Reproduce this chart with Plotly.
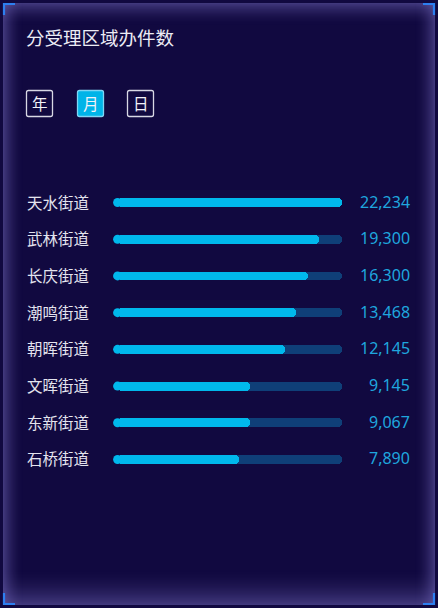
import plotly.graph_objects as go

# ---- data ----
title_text = "分受理区域办件数"
tabs = ["年", "月", "日"]
active_tab = "月"
streets = ["天水街道", "武林街道", "长庆街道", "潮鸣街道", "朝晖街道", "文晖街道", "东新街道", "石桥街道"]
counts = [22234, 19300, 16300, 13468, 12145, 9145, 9067, 7890]
bar_percent = [100, 90, 85, 80, 75, 60, 60, 55]
track_max = 100

W, H = 438, 608

def px(x):
    return x / W

def py(y):
    return 1 - y / H

BG = "#110940"
FILL = "#00b8ec"
TRACK = "#0f3f78"
VAL = "#1fa6de"
TXT = "#e4e4ee"
CJK = "Noto Sans CJK SC"

# plot geometry (pixels)
PX0, PX1 = 113, 342
PY0, PY1 = 182.0, 480.0
ROW_PX = (PY1 - PY0) / len(streets)
BAR_PX = 9
BAR_W = BAR_PX / ROW_PX
cap = (BAR_PX / 2) / (PX1 - PX0) * track_max  # round start-cap offset in data units

fig = go.Figure()
fig.add_trace(go.Bar(
    y=streets, x=[track_max - cap] * len(streets), base=[cap] * len(streets), orientation="h",
    marker=dict(color=TRACK, cornerradius="50%", line=dict(width=0)),
    width=BAR_W, hoverinfo="skip", showlegend=False,
))
fig.add_trace(go.Bar(
    y=streets, x=[v - cap for v in bar_percent], base=[cap] * len(streets), orientation="h",
    marker=dict(color=FILL, cornerradius="50%", line=dict(width=0)),
    width=BAR_W, hoverinfo="skip", showlegend=False,
))
fig.add_trace(go.Scatter(
    y=streets, x=[cap * 1.02] * len(streets), mode="markers",
    marker=dict(color=FILL, size=BAR_PX, line=dict(width=0)),
    hoverinfo="skip", showlegend=False, cliponaxis=False,
))

annotations = []
for s, c in zip(streets, counts):
    annotations.append(dict(
        x=px(25), xref="paper", y=s, yref="y", text=s, showarrow=False,
        xanchor="left", yanchor="middle", yshift=1,
        font=dict(family=CJK, size=15.5, color=TXT),
    ))
    annotations.append(dict(
        x=px(412), xref="paper", y=s, yref="y", text=f"{c:,}", showarrow=False,
        xanchor="right", yanchor="middle", yshift=1,
        font=dict(family="Noto Sans", size=16, color=VAL),
    ))

annotations.append(dict(
    x=px(24), y=py(37), xref="paper", yref="paper", text=title_text,
    showarrow=False, xanchor="left", yanchor="middle",
    font=dict(family=CJK, size=18.5, color="#ececf4"),
))

shapes = []
# inner glow of the frame
X0, Y0, X1, Y1 = 3, 3, 435, 605
def strip(x0, y0, x1, y1, color):
    shapes.append(dict(type="rect", xref="paper", yref="paper",
                       x0=px(x0), x1=px(x1), y0=py(y1), y1=py(y0),
                       fillcolor=color, line=dict(width=0), layer="below"))

sides = {"top": 22, "bottom": 36, "left": 20, "right": 20}
for side, depth in sides.items():
    for i in range(depth):
        a = 0.44 * (1 - i / depth) ** 1.8
        col = f"rgba(125,115,200,{a:.3f})"
        if side == "top":
            strip(X0, Y0 + i, X1, Y0 + i + 1, col)
        elif side == "bottom":
            strip(X0, Y1 - i - 1, X1, Y1 - i, col)
        elif side == "left":
            strip(X0 + i, Y0, X0 + i + 1, Y1, col)
        else:
            strip(X1 - i - 1, Y0, X1 - i, Y1, col)

# corner brackets
BL = "#2d7ff0"
L = 11
def path(pts):
    d = "M " + " L ".join(f"{px(x)},{py(y)}" for x, y in pts)
    shapes.append(dict(type="path", xref="paper", yref="paper", path=d,
                       line=dict(color=BL, width=2.2)))
path([(X0 + 1, X0 + 1 + L), (X0 + 1, Y0 + 1), (X0 + 1 + L, Y0 + 1)])
path([(X1 - 1 - L, Y0 + 1), (X1 - 1, Y0 + 1), (X1 - 1, Y0 + 1 + L)])
path([(X0 + 1, Y1 - 1 - L), (X0 + 1, Y1 - 1), (X0 + 1 + L, Y1 - 1)])
path([(X1 - 1 - L, Y1 - 1), (X1 - 1, Y1 - 1), (X1 - 1, Y1 - 1 - L)])

# tab buttons (rounded boxes)
def rrect(x0, y0, x1, y1, r):
    return (f"M {px(x0 + r)},{py(y0)} L {px(x1 - r)},{py(y0)} "
            f"Q {px(x1)},{py(y0)} {px(x1)},{py(y0 + r)} L {px(x1)},{py(y1 - r)} "
            f"Q {px(x1)},{py(y1)} {px(x1 - r)},{py(y1)} L {px(x0 + r)},{py(y1)} "
            f"Q {px(x0)},{py(y1)} {px(x0)},{py(y1 - r)} L {px(x0)},{py(y0 + r)} "
            f"Q {px(x0)},{py(y0)} {px(x0 + r)},{py(y0)} Z")

tab_x = [26, 77, 127]
for t, x in zip(tabs, tab_x):
    active = t == active_tab
    shapes.append(dict(type="path", xref="paper", yref="paper",
                       path=rrect(x + 0.5, 90.5, x + 26.5, 116.5, 2),
                       fillcolor="#00b4e8" if active else "rgba(0,0,0,0)",
                       line=dict(color="#d8d8e4" if not active else "#7fd6f4", width=1.3)))
    annotations.append(dict(
        x=px(x + 13.5), y=py(103.5), xref="paper", yref="paper", text=t,
        showarrow=False, xanchor="center", yanchor="middle",
        font=dict(family=CJK, size=15.5, color="#f2f2f8"),
    ))

fig.update_layout(
    width=W, height=H, margin=dict(l=0, r=0, t=0, b=0),
    paper_bgcolor=BG, plot_bgcolor="rgba(0,0,0,0)",
    barmode="overlay", bargap=0,
    xaxis=dict(domain=[px(PX0), px(PX1)], range=[0, track_max], visible=False, fixedrange=True),
    yaxis=dict(domain=[py(PY1), py(PY0)], categoryorder="array", categoryarray=streets,
               autorange="reversed", visible=False, fixedrange=True),
    annotations=annotations, shapes=shapes, showlegend=False,
)

fig.write_html("out.html", config={"displayModeBar": False})
